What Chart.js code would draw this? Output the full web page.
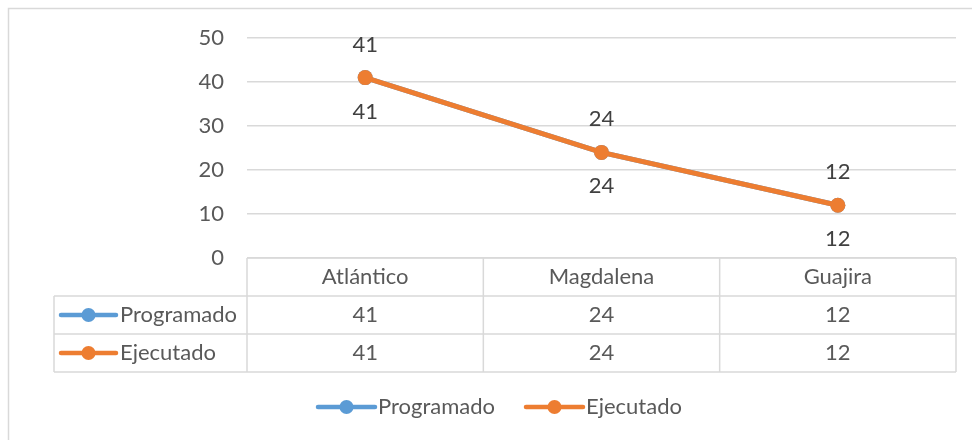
<!DOCTYPE html>
<html>
<head>
<meta charset="utf-8">
<script src="https://cdn.jsdelivr.net/npm/chart.js@4/dist/chart.umd.min.js"></script>
<style>
  html, body { margin: 0; padding: 0; background: #fff; }
  #wrap { width: 972px; height: 440px; }
</style>
</head>
<body>
<div id="wrap"><canvas id="chart" width="972" height="440"></canvas></div>
<script>
const categories = ['Atlántico', 'Magdalena', 'Guajira'];
const seriesNames = ['Programado', 'Ejecutado'];
const programado = [41, 24, 12];
const ejecutado = [41, 24, 12];
const yTicks = [0, 10, 20, 30, 40, 50];

const BLUE = '#5B9BD5';
const ORANGE = '#ED7D31';
const GRID = '#D9D9D9';
const TEXT = '#595959';
const FONT = '22px Lato, "Open Sans", sans-serif';

// línea con punto, como en la leyenda de Excel
function drawKey(ctx, x0, x1, y, color) {
  ctx.save();
  ctx.strokeStyle = color;
  ctx.lineWidth = 4.5;
  ctx.lineCap = 'round';
  ctx.beginPath();
  ctx.moveTo(x0, y);
  ctx.lineTo(x1, y);
  ctx.stroke();
  ctx.fillStyle = color;
  ctx.beginPath();
  ctx.arc((x0 + x1) / 2, y, 7, 0, Math.PI * 2);
  ctx.fill();
  ctx.restore();
}

const excelTable = {
  id: 'excelTable',
  beforeDraw(chart) {
    const ctx = chart.ctx;
    ctx.save();
    ctx.fillStyle = '#fff';
    ctx.fillRect(0, 0, chart.width, chart.height);
    // marco exterior
    ctx.strokeStyle = GRID;
    ctx.lineWidth = 1.5;
    ctx.beginPath();
    ctx.moveTo(8.5, chart.height + 2);
    ctx.lineTo(8.5, 8.5);
    ctx.lineTo(chart.width + 2, 8.5);
    ctx.stroke();
    ctx.restore();
  },
  afterDatasetsDraw(chart) {
    const ctx = chart.ctx;
    ctx.save();
    ctx.font = FONT;
    ctx.fillStyle = '#404040';
    ctx.textAlign = 'center';
    ctx.textBaseline = 'middle';
    // etiquetas: Programado arriba, Ejecutado abajo
    const offsets = [-33, 34];
    chart.data.datasets.forEach((ds, di) => {
      const meta = chart.getDatasetMeta(di);
      meta.data.forEach((pt, i) => {
        ctx.fillText(String(ds.data[i]), pt.x, pt.y + offsets[di]);
      });
    });
    ctx.restore();
  },
  afterDraw(chart) {
    const ctx = chart.ctx;
    const x = chart.scales.x;
    const y = chart.scales.y;
    const top = y.getPixelForValue(0);
    const rowH = 38;
    const colW = x.getPixelForValue(1) - x.getPixelForValue(0);
    const left = 54;
    const right = chart.chartArea.right;
    const colLeft = chart.chartArea.left;
    const rows = [programado, ejecutado];
    const colors = [BLUE, ORANGE];

    ctx.save();
    ctx.strokeStyle = GRID;
    ctx.lineWidth = 1.5;
    ctx.beginPath();
    // horizontales
    ctx.moveTo(colLeft, top); ctx.lineTo(right, top);
    for (let r = 1; r <= rows.length + 1; r++) {
      ctx.moveTo(left, top + r * rowH);
      ctx.lineTo(right, top + r * rowH);
    }
    // verticales
    ctx.moveTo(left, top + rowH); ctx.lineTo(left, top + (rows.length + 1) * rowH);
    for (let c = 0; c <= categories.length; c++) {
      const cx = x.getPixelForValue(c) - colW / 2;
      ctx.moveTo(cx, top); ctx.lineTo(cx, top + (rows.length + 1) * rowH);
    }
    ctx.stroke();

    ctx.font = FONT;
    ctx.fillStyle = TEXT;
    ctx.textBaseline = 'middle';
    ctx.textAlign = 'center';
    categories.forEach((c, i) => {
      ctx.fillText(c, x.getPixelForValue(i), top + rowH / 2);
    });
    rows.forEach((vals, r) => {
      const cy = top + (r + 1) * rowH + rowH / 2;
      ctx.textAlign = 'center';
      vals.forEach((v, i) => ctx.fillText(String(v), x.getPixelForValue(i), cy));
      drawKey(ctx, 61, 116, cy, colors[r]);
      ctx.fillStyle = TEXT;
      ctx.textAlign = 'left';
      ctx.fillText(seriesNames[r], 120, cy);
    });

    // leyenda inferior
    const ly = 407;
    const lx = [318, 526];
    seriesNames.forEach((name, i) => {
      drawKey(ctx, lx[i], lx[i] + 57, ly, colors[i]);
      ctx.fillStyle = TEXT;
      ctx.textAlign = 'left';
      ctx.fillText(name, lx[i] + 60, ly);
    });
    ctx.restore();
  }
};

new Chart(document.getElementById('chart'), {
  type: 'line',
  data: {
    labels: categories,
    datasets: [
      {
        label: seriesNames[0],
        data: programado,
        borderColor: BLUE,
        backgroundColor: BLUE,
        borderWidth: 5,
        pointRadius: 7.5,
        pointBorderWidth: 0,
        tension: 0,
        order: 2
      },
      {
        label: seriesNames[1],
        data: ejecutado,
        borderColor: ORANGE,
        backgroundColor: ORANGE,
        borderWidth: 5,
        pointRadius: 7.5,
        pointBorderWidth: 0,
        tension: 0,
        order: 1
      }
    ]
  },
  options: {
    responsive: false,
    animation: false,
    layout: { padding: { left: 0, right: 16, top: 38, bottom: 182 } },
    plugins: {
      legend: { display: false },
      tooltip: { enabled: false }
    },
    scales: {
      x: {
        type: 'category',
        offset: true,
        display: false
      },
      y: {
        min: yTicks[0],
        max: yTicks[yTicks.length - 1],
        afterBuildTicks: s => { s.ticks = yTicks.map(v => ({ value: v })); },
        afterFit: s => { s.width = 247; },
        ticks: {
          color: TEXT,
          font: { family: 'Lato, "Open Sans", sans-serif', size: 22 },
          padding: 23
        },
        grid: { color: GRID, lineWidth: 1.5, drawTicks: false },
        border: { display: false }
      }
    }
  },
  plugins: [excelTable]
});
</script>
</body>
</html>
